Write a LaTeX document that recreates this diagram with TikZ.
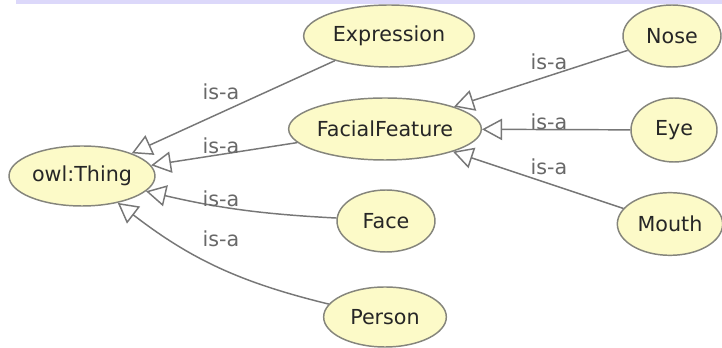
\documentclass[tikz,border=0pt]{standalone}
\usepackage{fontspec}
\setmainfont{DejaVu Sans}
\usetikzlibrary{shapes.geometric,arrows.meta}
\definecolor{classfill}{HTML}{FCFAC8}
\definecolor{classline}{HTML}{85857C}
\definecolor{edgeline}{HTML}{777777}
\definecolor{labeltext}{HTML}{686868}
\definecolor{band}{HTML}{DCD8FA}
\tikzset{
  owlclass/.style={ellipse, draw=classline, line width=1.1pt, fill=classfill,
    inner sep=0pt, font=\fontsize{15.5}{18}\selectfont, text=black!85},
  isa/.style={draw=edgeline, line width=1.1pt,
    -{Triangle[open, length=15pt, width=16pt, line width=1.1pt]}},
  isalabel/.style={inner sep=0pt, text=labeltext, font=\fontsize{15.5}{18}\selectfont}
}
\begin{document}
\begin{tikzpicture}[x=0.75pt, y=-0.75pt]
  \useasboundingbox (0,0) rectangle (722,348);
  \fill[white] (0,0) rectangle (722,348);
  % highlight band along the top edge
  \fill[band] (16,0) rectangle (722,4);

  % classes
  \node[owlclass, minimum width=109.5pt, minimum height=45pt]   (thing)   at (82,176)  {owl:Thing};
  \node[owlclass, minimum width=128pt,   minimum height=46.5pt] (expr)    at (389,36)  {Expression};
  \node[owlclass, minimum width=142.5pt, minimum height=46.5pt] (feature) at (385,129) {FacialFeature};
  \node[owlclass, minimum width=73.5pt,  minimum height=46.5pt] (face)    at (386,221) {Face};
  \node[owlclass, minimum width=92pt,    minimum height=45pt]   (person)  at (385,317) {Person};
  \node[owlclass, minimum width=73.5pt,  minimum height=46.5pt] (nose)    at (672,36)  {Nose};
  \node[owlclass, minimum width=64.5pt,  minimum height=48pt]   (eye)     at (674,130) {Eye};
  \node[owlclass, minimum width=79pt,    minimum height=47pt]   (mouth)   at (670,224) {Mouth};

  % subclass relations
  \draw[isa] (expr) -- (thing);
  \draw[isa] (feature) -- (thing);
  \draw[isa] (face) to[bend left=5] (thing);
  \draw[isa] (person) to[bend left=12] (thing);
  \draw[isa] (nose) -- (feature);
  \draw[isa] (eye) -- (feature);
  \draw[isa] (mouth) -- (feature);

  % relation labels
  \node[isalabel] (l1) at (221,92)  {is-a};
  \node[isalabel] (l2) at (221,146) {is-a};
  \node[isalabel] (l3) at (221,199) {is-a};
  \node[isalabel] (l4) at (221,239) {is-a};
  \node[isalabel] (l5) at (549,62)  {is-a};
  \node[isalabel] (l6) at (549,122) {is-a};
  \node[isalabel] (l7) at (549,167) {is-a};
\end{tikzpicture}
\end{document}
